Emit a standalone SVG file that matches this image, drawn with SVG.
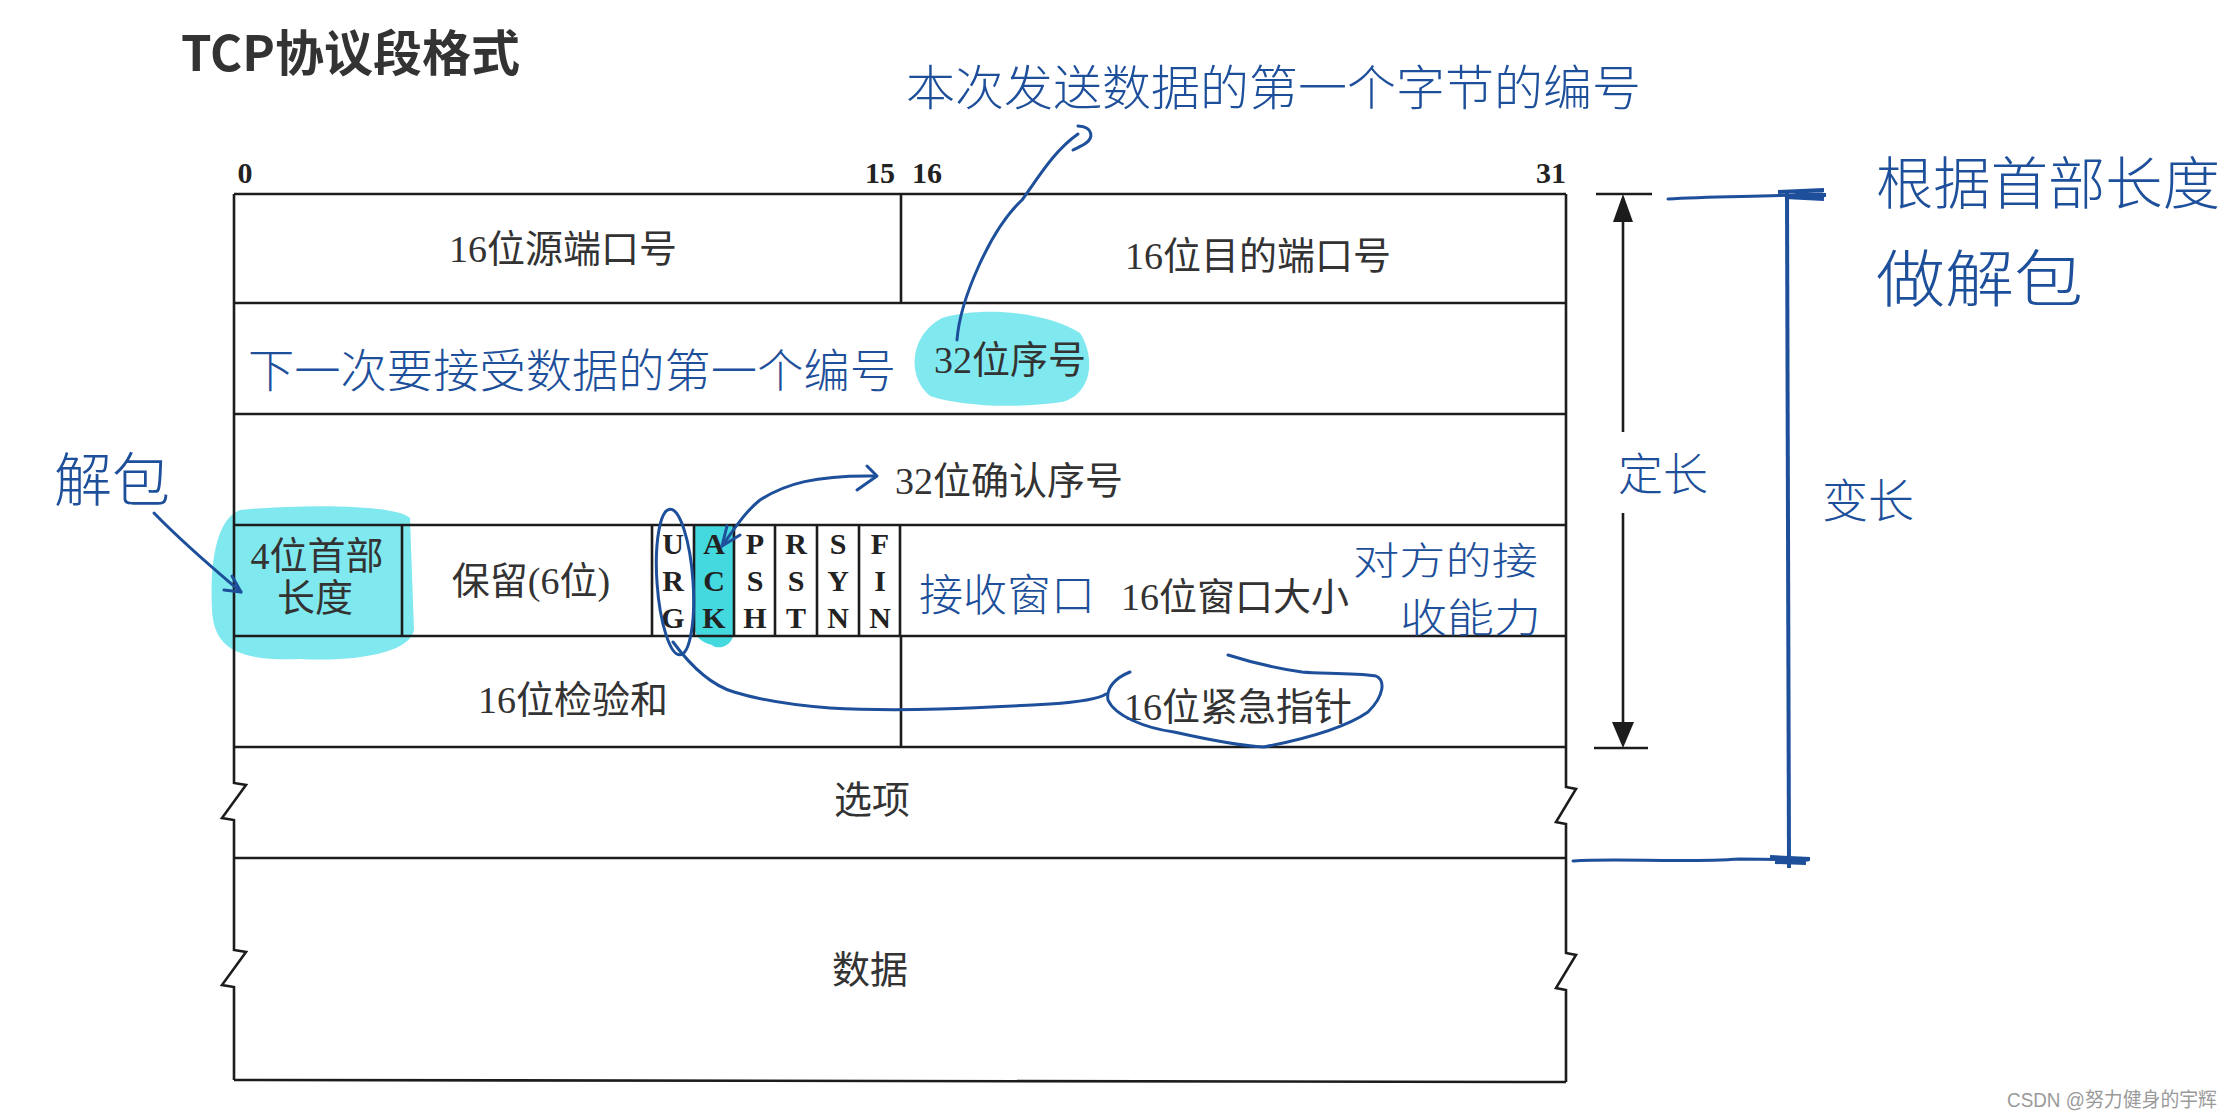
<svg xmlns="http://www.w3.org/2000/svg" width="2232" height="1120" viewBox="0 0 2232 1120">
<style>
.ln{stroke:#1c1c1c;stroke-width:2.6;fill:none}
.t{font-family:"Liberation Serif","Noto Sans CJK SC",serif;font-size:38px;fill:#333;text-anchor:middle}
.f{font-family:"Liberation Serif",serif;font-size:30px;font-weight:bold;fill:#222;text-anchor:middle}
.b{font-family:"Liberation Serif",serif;font-size:30px;font-weight:bold;fill:#222;text-anchor:middle}
.h{font-family:"Noto Sans CJK SC",sans-serif;font-weight:300;fill:#1d4f9a}
.ink{stroke:#1d4f9a;stroke-width:3;fill:none;stroke-linecap:round;stroke-linejoin:round}
.hl{fill:#80e8ef}
</style>
<rect width="2232" height="1120" fill="#fff"/>
<text x="181" y="71" font-family="Noto Sans CJK SC, sans-serif" font-weight="700" font-size="49" fill="#333">TCP协议段格式</text>

<g id="bit-labels">
<text class="b" x="245" y="183">0</text>
<text class="b" x="880" y="183">15</text>
<text class="b" x="927" y="183">16</text>
<text class="b" x="1551" y="183">31</text>
</g>

<g id="highlights">
<path class="hl" d="M240,510 C300,504 395,504 410,518 L414,630 C410,652 360,662 300,659 C240,661 214,650 212,610 C210,570 214,520 240,510 Z"/>
<path class="hl" d="M942,318 C985,305 1050,313 1080,333 C1096,358 1092,394 1062,402 C1012,409 960,406 930,396 C906,376 910,335 942,318 Z"/>
<path fill="#44d8df" d="M695,526 L734,526 L734,630 C734,648 716,650 712,645 C700,642 696,636 695,630 Z"/>
</g>

<g id="frame">
<path class="ln" d="M234,194 L1566,194 M234,303 L1566,303 M234,414 L1566,414 M234,525 L1566,525 M234,636 L1566,636 M234,747 L1566,747 M234,858 L1566,858 M234,1080 L1566,1082"/>
<path class="ln" d="M234,194 L234,783 L246,785 L222,818 L234,820 L234,950 L246,952 L222,985 L234,987 L234,1080"/>
<path class="ln" d="M1566,194 L1566,787 L1576,789 L1556,822 L1566,824 L1566,953 L1576,955 L1556,988 L1566,990 L1566,1082"/>
</g>

<g id="src-port"><text class="t" x="563" y="262">16位源端口号</text></g>
<g id="dst-port"><path class="ln" d="M901,194 L901,303"/><text class="t" x="1258" y="269">16位目的端口号</text></g>
<g id="seq"><text class="t" x="1010" y="373">32位序号</text></g>
<g id="ack-num"><text class="t" x="1009" y="494">32位确认序号</text></g>
<g id="hdr-len"><path class="ln" d="M402,525 L402,636"/><text class="t" x="317" y="569">4位首部</text><text class="t" x="315" y="611">长度</text></g>
<g id="reserved"><text class="t" x="531" y="594">保留(6位)</text></g>
<g id="flags">
<path class="ln" d="M652,525 L652,636 M694,525 L694,636 M734,525 L734,636 M775,525 L775,636 M817,525 L817,636 M859,525 L859,636 M900,525 L900,636"/>
<text class="f" x="673" y="554">U</text><text class="f" x="673" y="591">R</text><text class="f" x="673" y="628">G</text>
<text class="f" x="714" y="554">A</text><text class="f" x="714" y="591">C</text><text class="f" x="714" y="628">K</text>
<text class="f" x="755" y="554">P</text><text class="f" x="755" y="591">S</text><text class="f" x="755" y="628">H</text>
<text class="f" x="796" y="554">R</text><text class="f" x="796" y="591">S</text><text class="f" x="796" y="628">T</text>
<text class="f" x="838" y="554">S</text><text class="f" x="838" y="591">Y</text><text class="f" x="838" y="628">N</text>
<text class="f" x="880" y="554">F</text><text class="f" x="880" y="591">I</text><text class="f" x="880" y="628">N</text>
</g>
<g id="window"><text class="t" x="1235" y="610">16位窗口大小</text></g>
<g id="checksum"><text class="t" x="573" y="713">16位检验和</text></g>
<g id="urgent"><path class="ln" d="M901,636 L901,747"/><text class="t" x="1238" y="720">16位紧急指针</text></g>
<g id="options"><text class="t" x="872" y="813">选项</text></g>
<g id="data"><text class="t" x="870" y="983">数据</text></g>

<g id="fixed-len">
<path class="ln" d="M1596,194 L1652,194 M1594,748 L1648,748 M1623,214 L1623,432 M1623,513 L1623,728"/>
<polygon points="1623,194 1613,222 1633,222" fill="#1c1c1c"/>
<polygon points="1623,748 1612,722 1634,722" fill="#1c1c1c"/>
</g>

<g id="annotations">
<text class="h" x="906" y="105" font-size="48" textLength="735" lengthAdjust="spacingAndGlyphs">本次发送数据的第一个字节的编号</text>
<text class="h" x="248" y="387" font-size="46" textLength="648" lengthAdjust="spacingAndGlyphs">下一次要接受数据的第一个编号</text>
<text class="h" x="54" y="501" font-size="58">解包</text>
<text class="h" x="1618" y="491" font-size="45">定长</text>
<text class="h" x="1822" y="517" font-size="46">变长</text>
<text class="h" x="1876" y="204" font-size="57" textLength="344" lengthAdjust="spacingAndGlyphs">根据首部长度</text>
<text class="h" x="1876" y="302" font-size="62" textLength="207" lengthAdjust="spacingAndGlyphs">做解包</text>
<text class="h" x="919" y="611" font-size="44">接收窗口</text>
<text class="h" x="1353" y="574" font-size="38" textLength="185" lengthAdjust="spacingAndGlyphs">对方的接</text>
<text class="h" x="1400" y="632" font-size="40" textLength="141" lengthAdjust="spacingAndGlyphs">收能力</text>
</g>

<g id="connectors">
<path class="ink" d="M957,340 C960,300 990,230 1022,200 C1040,175 1055,150 1078,134"/>
<path class="ink" d="M1078,126 C1094,127 1093,138 1086,143 C1082,146 1077,148 1073,150"/>
<path class="ink" d="M722,546 C735,528 745,512 760,500 C785,484 815,475 876,476"/>
<path class="ink" d="M867,466 L877,476 L857,490"/>
<path class="ink" d="M722,546 L727,526 M722,546 L740,535"/>
<path class="ink" d="M154,513 C185,545 215,570 241,592"/>
<path class="ink" d="M232,576 L241,592 L224,590"/>
<ellipse class="ink" cx="675" cy="582" rx="18" ry="73" transform="rotate(-4 675 582)"/>
<path class="ink" d="M673,642 C690,665 710,685 734,692 C760,700 790,705 830,708 C900,712 980,708 1050,704 C1080,702 1100,698 1106,694"/>
<path class="ink" d="M1130,672 C1115,678 1106,688 1108,700 C1115,716 1145,728 1174,732 C1210,740 1240,746 1264,747 C1300,740 1345,728 1368,712 C1385,695 1385,680 1376,676 C1350,672 1320,674 1302,672 C1275,668 1250,662 1228,655"/>
<path d="M1787,190 L1789,868" stroke="#1d4f9a" stroke-width="4" fill="none"/>
<path class="ink" d="M1668,199 C1710,196 1760,197 1822,194"/>
<path d="M1778,192 L1824,190 M1785,197 L1824,199 M1795,194 L1826,195" stroke="#1d4f9a" stroke-width="4" fill="none"/>
<path class="ink" d="M1573,861 C1620,858 1680,863 1740,859 L1808,860"/>
<path d="M1770,857 L1810,859 M1775,862 L1806,863" stroke="#1d4f9a" stroke-width="4" fill="none"/>
</g>

<text x="2007" y="1107" font-family="Liberation Sans, Noto Sans CJK SC, sans-serif" font-size="20" fill="#9a9a9a" textLength="210" lengthAdjust="spacingAndGlyphs">CSDN @努力健身的宇辉</text>
</svg>
